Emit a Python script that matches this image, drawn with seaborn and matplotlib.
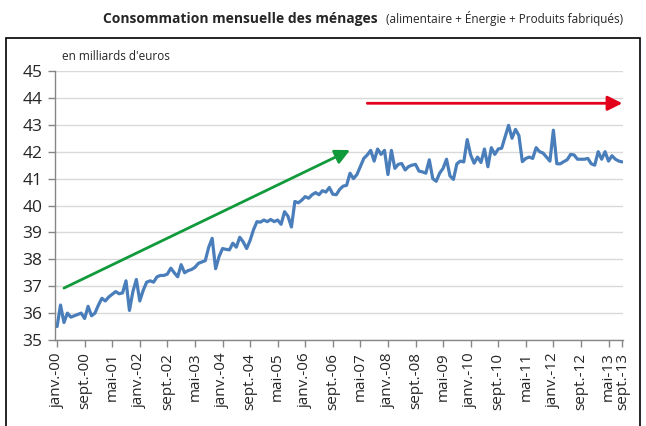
import numpy as np
import pandas as pd
import matplotlib
matplotlib.use("Agg")
import matplotlib.pyplot as plt
from matplotlib.patches import Rectangle
from matplotlib import font_manager
import seaborn as sns

# Monthly household consumption, billions of euros (Jan 2000 -> Sept 2013)
conso = [
    35.5, 36.3, 35.65, 36.0, 35.85, 35.9, 35.95, 36.0, 35.8, 36.25,
    35.9, 36.0, 36.3, 36.55, 36.45, 36.6, 36.7, 36.8, 36.72, 36.75,
    37.2, 36.1, 36.8, 37.25, 36.45, 36.85, 37.15, 37.2, 37.15, 37.35,
    37.4, 37.4, 37.45, 37.67, 37.5, 37.35, 37.8, 37.5, 37.58, 37.62,
    37.7, 37.85, 37.9, 37.95, 38.45, 38.78, 37.65, 38.1, 38.4, 38.37,
    38.35, 38.6, 38.45, 38.82, 38.65, 38.4, 38.7, 39.1, 39.4, 39.38,
    39.46, 39.4, 39.48, 39.4, 39.46, 39.3, 39.77, 39.6, 39.2, 40.15,
    40.1, 40.2, 40.33, 40.27, 40.4, 40.48, 40.4, 40.55, 40.5, 40.67,
    40.42, 40.4, 40.6, 40.72, 40.75, 41.2, 41.0, 41.15, 41.45, 41.75,
    41.88, 42.05, 41.65, 42.1, 41.9, 42.05, 41.15, 42.05, 41.38, 41.53,
    41.56, 41.32, 41.45, 41.5, 41.53, 41.28, 41.25, 41.2, 41.7, 41.0,
    40.9, 41.2, 41.38, 41.72, 41.1, 40.97, 41.55, 41.65, 41.62, 42.45,
    41.88, 41.57, 41.8, 41.6, 42.1, 41.44, 42.15, 41.9, 42.1, 42.13,
    42.55, 42.98, 42.5, 42.83, 42.6, 41.63, 41.75, 41.8, 41.75, 42.15,
    42.0, 41.95, 41.8, 41.65, 42.8, 41.55, 41.55, 41.63, 41.7, 41.9,
    41.88, 41.72, 41.72, 41.72, 41.75, 41.55, 41.5, 42.0, 41.72, 42.0,
    41.65, 41.85, 41.72, 41.65, 41.62,
]

tick_labels = [
    "janv.-00", "sept.-00", "mai-01", "janv.-02", "sept.-02", "mai-03",
    "janv.-04", "sept.-04", "mai-05", "janv.-06", "sept.-06", "mai-07",
    "janv.-08", "sept.-08", "mai-09", "janv.-10", "sept.-10", "mai-11",
    "janv.-12", "sept.-12", "mai-13", "sept.-13",
]
tick_months = ["2000-01", "2000-09", "2001-05", "2002-01", "2002-09", "2003-05",
               "2004-01", "2004-09", "2005-05", "2006-01", "2006-09", "2007-05",
               "2008-01", "2008-09", "2009-05", "2010-01", "2010-09", "2011-05",
               "2012-01", "2012-09", "2013-05", "2013-09"]

# trend arrows (start month, start value, end month, end value)
green_arrow = ("2000-03", 36.93, "2007-02", 42.06)
red_arrow = ("2007-07", 43.8, "2013-09", 43.8)

dates = pd.date_range("2000-01", periods=len(conso), freq="MS")
df = pd.DataFrame({"mois": np.arange(len(conso)), "conso": conso}, index=dates)


def month_pos(m):
    return df.loc[pd.Timestamp(m), "mois"]


sns.set_style("white")
plt.rcParams["font.family"] = ["Open Sans", "DejaVu Sans"]

# narrow face for the bold title if available
installed = {f.name for f in font_manager.fontManager.ttflist}
title_family = ["Liberation Sans Narrow"] if "Liberation Sans Narrow" in installed else ["Open Sans"]
title_size = 13 if "Liberation Sans Narrow" in installed else 10

fig = plt.figure(figsize=(6.46, 4.26), dpi=100)
ax = fig.add_axes([55 / 646, 1 - 340 / 426, (623 - 55) / 646, (340 - 71) / 426])

sns.lineplot(data=df, x="mois", y="conso", ax=ax, color="#4a7ebb", linewidth=2.3)

ax.set_xlim(-0.6, len(conso) - 0.8)
ax.set_ylim(35, 45)
ax.set_yticks(range(35, 46))
ax.set_xticks([month_pos(m) for m in tick_months])
ax.set_xticklabels(tick_labels, rotation=90, fontsize=11)
ax.tick_params(axis="y", labelsize=12.5, length=5, width=1, color="#868686",
               direction="out", left=True, pad=4)
ax.tick_params(axis="x", length=5, width=1, color="#868686",
               direction="out", bottom=True, pad=4)
ax.set_xlabel("")
ax.set_ylabel("")
ax.grid(axis="y", color="#d9d9d9", linewidth=1)
ax.set_axisbelow(True)
for side in ["top", "right"]:
    ax.spines[side].set_visible(False)
for side in ["left", "bottom"]:
    ax.spines[side].set_color("#868686")
    ax.spines[side].set_linewidth(1)

# arrows
ax.annotate("", xy=(month_pos(green_arrow[2]), green_arrow[3]),
            xytext=(month_pos(green_arrow[0]), green_arrow[1]),
            arrowprops=dict(arrowstyle="-|>", color="#119a3b", lw=2,
                            mutation_scale=22, shrinkA=0, shrinkB=0))
ax.annotate("", xy=(month_pos(red_arrow[2]), red_arrow[3]),
            xytext=(month_pos(red_arrow[0]), red_arrow[1]),
            arrowprops=dict(arrowstyle="-|>", color="#e2001a", lw=2,
                            mutation_scale=22, shrinkA=0, shrinkB=0),
            annotation_clip=False)

# unit label
fig.text(62 / 646, 1 - 57 / 426, "en milliards d'euros", fontsize=8.5,
         ha="left", va="center")

# outer frame
fig.patches.append(Rectangle((6 / 646, -0.1), (640 - 6) / 646, 0.1 + 1 - 38 / 426,
                             transform=fig.transFigure, fill=False,
                             edgecolor="black", linewidth=1.2))

# title in two parts
fig.text(378 / 646, 1 - 23 / 426, "Consommation mensuelle des ménages",
         fontsize=title_size, fontweight="bold", family=title_family,
         ha="right", va="baseline")
fig.text(623 / 646, 1 - 23 / 426, "(alimentaire + Énergie + Produits fabriqués)",
         fontsize=8.5, ha="right", va="baseline")

fig.savefig("out.png", dpi=100)
